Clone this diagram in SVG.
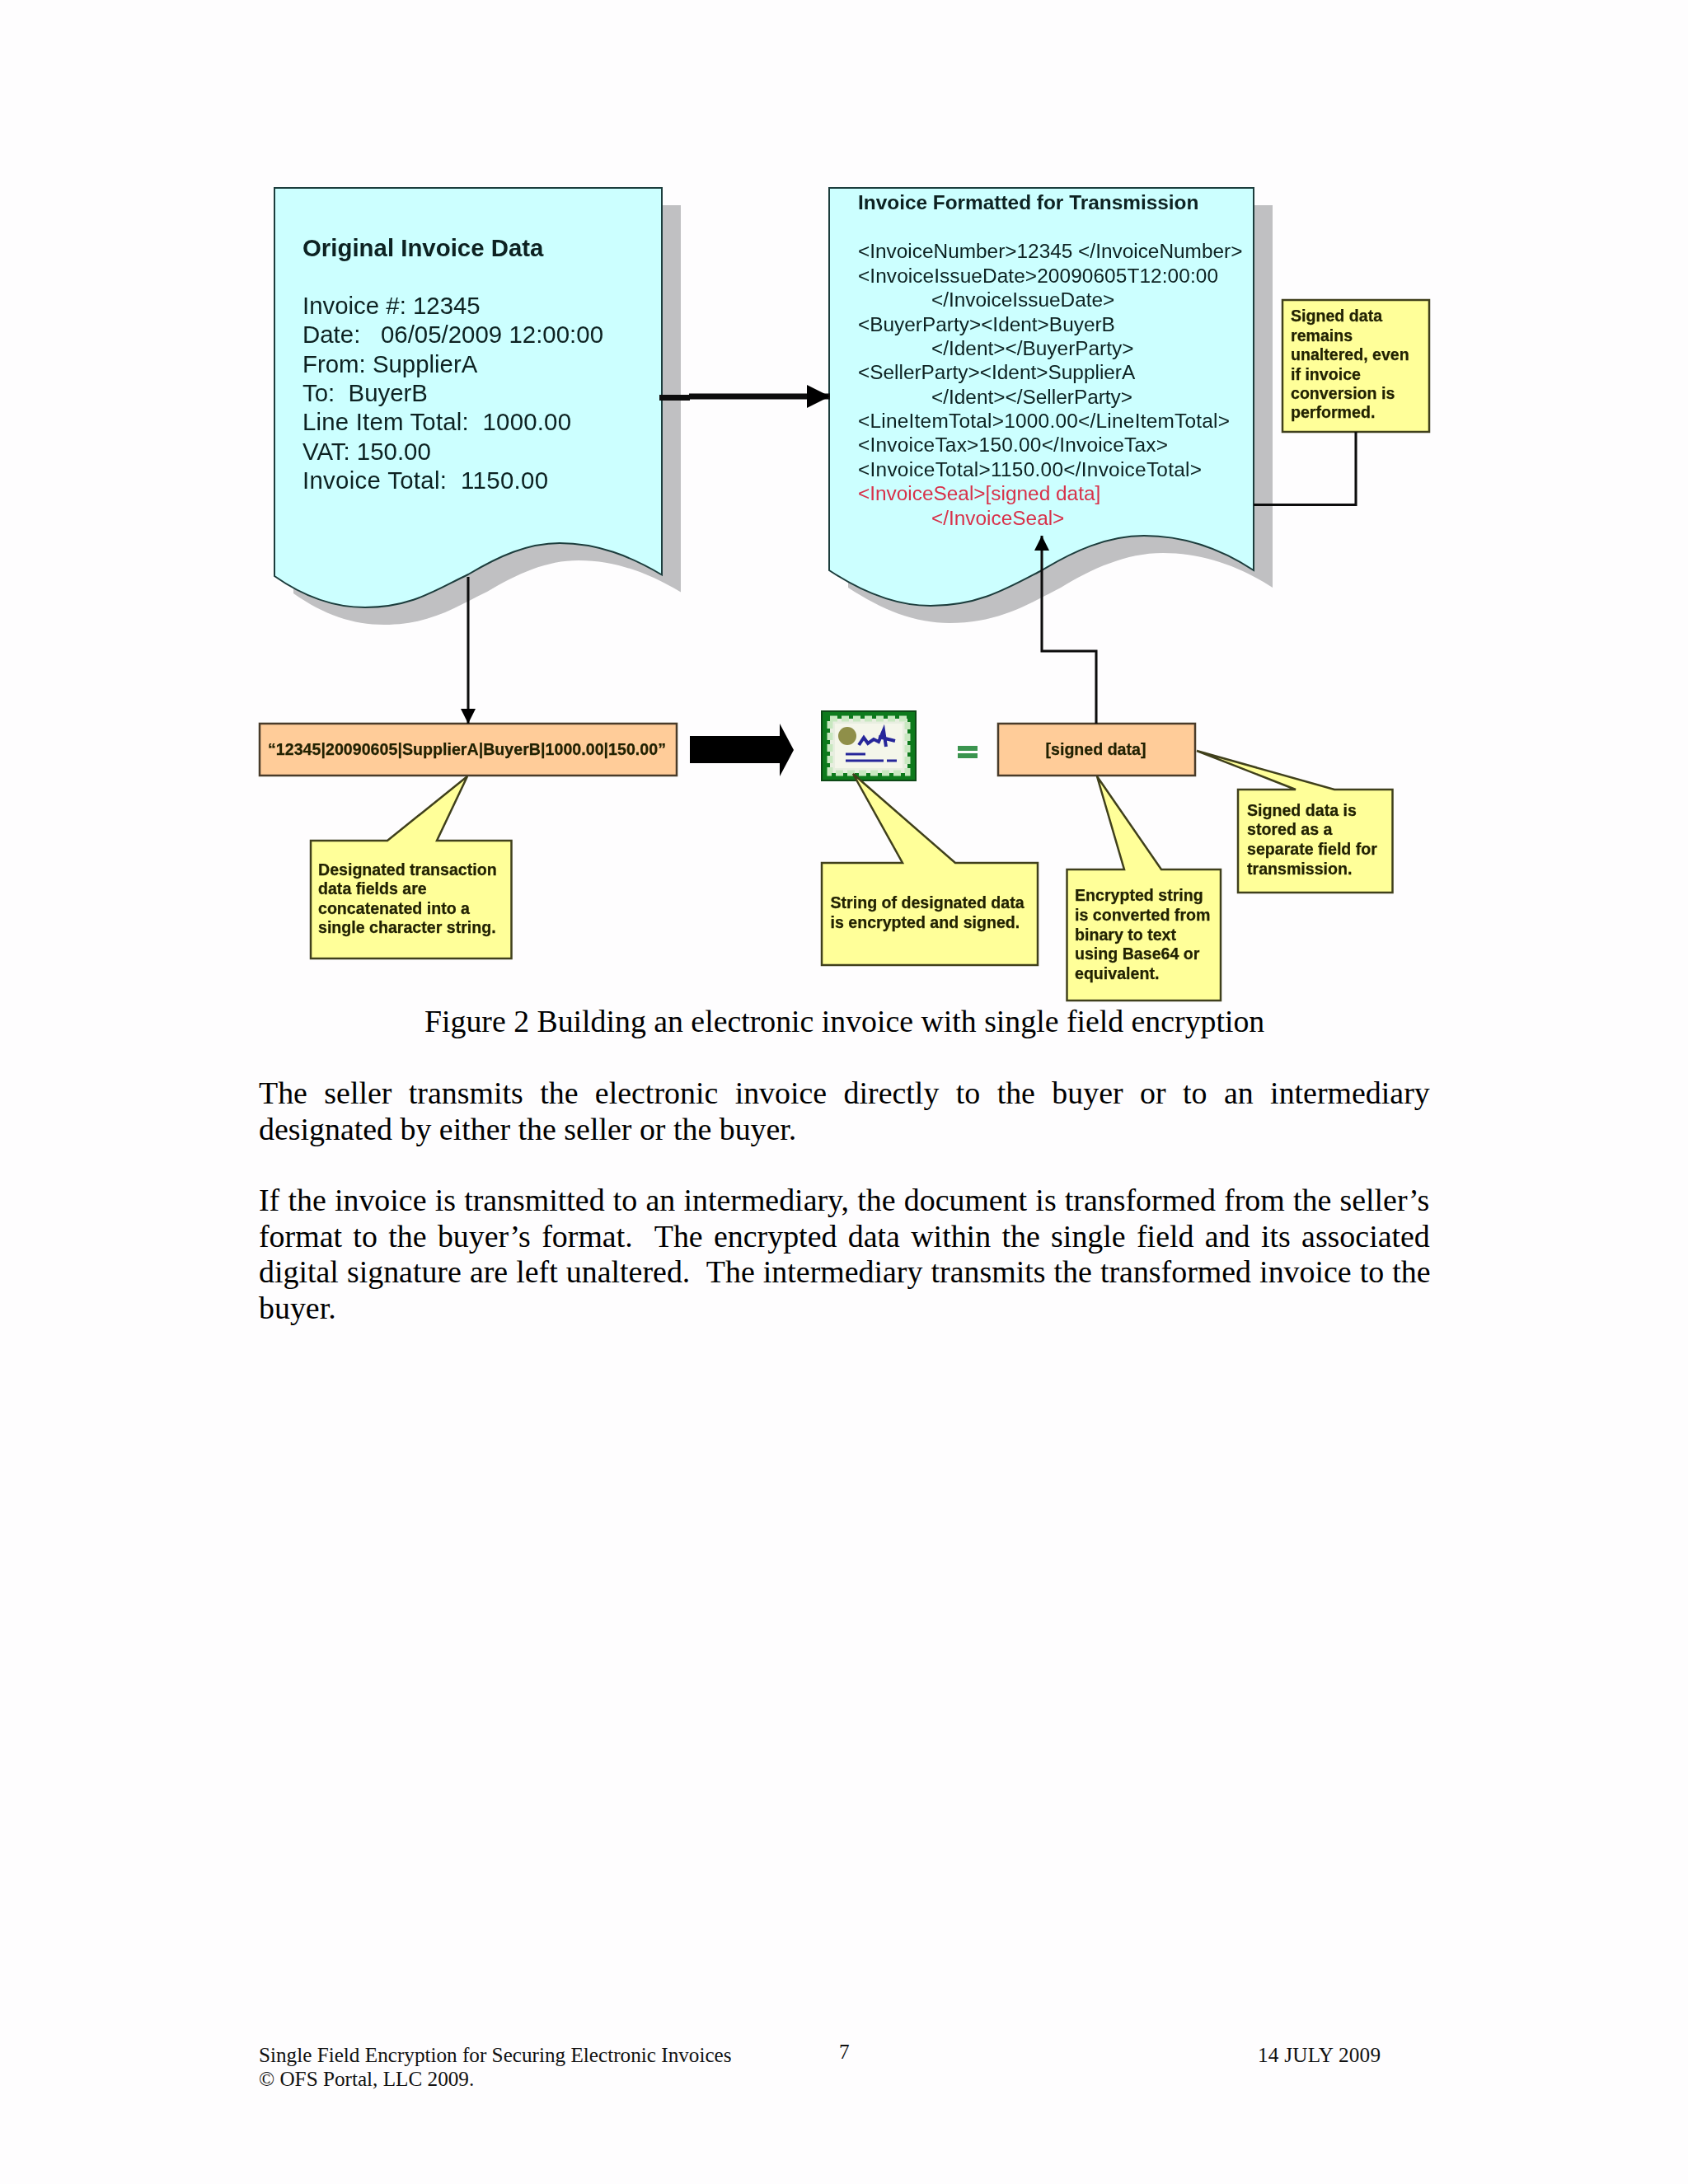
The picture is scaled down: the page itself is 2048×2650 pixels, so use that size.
<svg xmlns="http://www.w3.org/2000/svg" width="2048" height="2650" viewBox="0 0 2048 2650">
<style>
text{white-space:pre}
.soft{filter:url(#soft)}
.s{font-family:"Liberation Sans",Arial,sans-serif;fill:#0d2222}
.b{font-weight:bold}
.d1{font-size:29.4px}
.d2{font-size:24.4px}
.red{fill:#d8304a}
.c{font-family:"Liberation Sans",Arial,sans-serif;font-weight:bold;font-size:19.6px;fill:#222206;stroke:#222206;stroke-width:.25}
.t{font-family:"Liberation Serif","Times New Roman",serif;font-size:37.9px;fill:#000}
.f{font-family:"Liberation Serif","Times New Roman",serif;font-size:25.2px;fill:#111}
.shadow{fill:#c0c0c2}
.doc{fill:#ccffff;stroke:#1c3c3c;stroke-width:2}
.orange{fill:#ffcc99;stroke:#4a3a2a;stroke-width:2.5}
.note{fill:#ffff99;stroke:#40401c;stroke-width:2.5;stroke-linejoin:miter}
.conn{fill:none;stroke:#0a0a0a;stroke-width:3}
</style>
<defs>
<filter id="soft" x="-5%" y="-5%" width="110%" height="110%"><feGaussianBlur stdDeviation="0.55"/></filter>
<marker id="ah" markerUnits="userSpaceOnUse" markerWidth="18" markerHeight="18" refX="18" refY="9" orient="auto"><path d="M0 0L18 9L0 18Z" fill="#000"/></marker>
<marker id="ahL" markerUnits="userSpaceOnUse" markerWidth="28" markerHeight="28" refX="28" refY="14" orient="auto"><path d="M0 0L28 14L0 28Z" fill="#000"/></marker>
</defs>
<rect width="2048" height="2650" fill="#fefdfe"/>
<g id="doc-original" class="soft">
<path class="shadow" d="M356 249H826V718.500C788 696 748 680 702 680C663 680 628 696 591 718C553 736 523 758 466 758C428 758 393 746 356 720Z"/>
<path class="doc" d="M333 228H803V697.500C765 675 725 659 679 659C640 659 605 675 568 697C530 715 500 737 443 737C405 737 370 725 333 699Z"/>
<text class="s d1 b" x="367" y="311">Original Invoice Data</text>
<text class="s d1" x="367" y="381">Invoice #: 12345</text>
<text class="s d1" x="367" y="416" textLength="365">Date:   06/05/2009 12:00:00</text>
<text class="s d1" x="367" y="452">From: SupplierA</text>
<text class="s d1" x="367" y="487">To:  BuyerB</text>
<text class="s d1" x="367" y="522" textLength="326">Line Item Total:  1000.00</text>
<text class="s d1" x="367" y="558">VAT: 150.00</text>
<text class="s d1" x="367" y="593" textLength="298">Invoice Total:  1150.00</text>
</g>
<g id="doc-formatted" class="soft">
<path class="shadow" d="M1029 249H1544V713C1506 688 1460 671 1411 671C1366 671 1325 690 1287 713C1245 735 1210 756 1152 756C1110 756 1070 740 1029 713Z"/>
<path class="doc" d="M1006 228H1521V692C1483 667 1437 650 1388 650C1343 650 1302 669 1264 692C1222 714 1187 735 1129 735C1087 735 1047 719 1006 692Z"/>
<text class="s d2 b" x="1041" y="254">Invoice Formatted for Transmission</text>
<text class="s d2" x="1041" y="313">&lt;InvoiceNumber&gt;12345 &lt;/InvoiceNumber&gt;</text>
<text class="s d2" x="1041" y="343" textLength="437">&lt;InvoiceIssueDate&gt;20090605T12:00:00</text>
<text class="s d2" x="1130" y="372">&lt;/InvoiceIssueDate&gt;</text>
<text class="s d2" x="1041" y="402">&lt;BuyerParty&gt;&lt;Ident&gt;BuyerB</text>
<text class="s d2" x="1130" y="431">&lt;/Ident&gt;&lt;/BuyerParty&gt;</text>
<text class="s d2" x="1041" y="460">&lt;SellerParty&gt;&lt;Ident&gt;SupplierA</text>
<text class="s d2" x="1130" y="490">&lt;/Ident&gt;&lt;/SellerParty&gt;</text>
<text class="s d2" x="1041" y="519" textLength="451">&lt;LineItemTotal&gt;1000.00&lt;/LineItemTotal&gt;</text>
<text class="s d2" x="1041" y="548" textLength="376">&lt;InvoiceTax&gt;150.00&lt;/InvoiceTax&gt;</text>
<text class="s d2" x="1041" y="578" textLength="417">&lt;InvoiceTotal&gt;1150.00&lt;/InvoiceTotal&gt;</text>
<text class="s d2 red" x="1041" y="607">&lt;InvoiceSeal&gt;[signed data]</text>
<text class="s d2 red" x="1130" y="637">&lt;/InvoiceSeal&gt;</text>
</g>
<g id="note-unaltered" class="soft">
<rect class="note" x="1556" y="364" width="178" height="160"/>
<text class="c" x="1566" y="390">Signed data</text>
<text class="c" x="1566" y="414">remains</text>
<text class="c" x="1566" y="437">unaltered, even</text>
<text class="c" x="1566" y="461">if invoice</text>
<text class="c" x="1566" y="484">conversion is</text>
<text class="c" x="1566" y="507">performed.</text>
</g>
<g id="box-string" class="soft">
<rect class="orange" x="315" y="878" width="506" height="63"/>
<text class="c" x="325" y="915.500" textLength="483">“12345|20090605|SupplierA|BuyerB|1000.00|150.00”</text>
</g>
<g id="certificate" class="soft">
<rect x="997" y="863" width="114" height="84" fill="#0c7a1c" stroke="#0a4a12" stroke-width="2"/>
<rect x="1007" y="872" width="94" height="66" fill="#e8eee0" stroke="#c8e8c0" stroke-width="7" stroke-dasharray="9 5"/>
<rect x="1013" y="878" width="82" height="54" fill="#f4f6ea"/>
<circle cx="1028" cy="893" r="11" fill="#8f8f48"/>
<path d="M1042 904L1048 895L1053 902L1060 897L1066 900L1072 886L1075 906M1066 894L1086 899" fill="none" stroke="#28289a" stroke-width="4"/>
<path d="M1026 915H1050M1026 923H1072M1076 923H1088" fill="none" stroke="#28289a" stroke-width="3"/>
</g>
<g id="equals" class="soft">
<rect x="1162" y="905" width="24" height="6" fill="#3a9450"/>
<rect x="1162" y="914" width="24" height="6" fill="#3a9450"/>
</g>
<g id="box-signed" class="soft">
<rect class="orange" x="1211" y="878" width="239" height="63"/>
<text class="c" x="1329.500" y="915.500" text-anchor="middle">[signed data]</text>
</g>
<g id="note-concatenated" class="soft">
<path class="note" d="M377 1020H470L567 942L530 1020H620.500V1163H377Z"/>
<text class="c" x="386" y="1061.500">Designated transaction</text>
<text class="c" x="386" y="1085">data fields are</text>
<text class="c" x="386" y="1108.500">concatenated into a</text>
<text class="c" x="386" y="1132">single character string.</text>
</g>
<g id="note-encrypted" class="soft">
<path class="note" d="M997 1047H1095L1035 939L1159 1047H1259V1171H997Z"/>
<text class="c" x="1007.500" y="1102">String of designated data</text>
<text class="c" x="1007.500" y="1126">is encrypted and signed.</text>
</g>
<g id="note-converted" class="soft">
<path class="note" d="M1294.500 1055H1364L1331 942L1409 1055H1481V1214H1294.500Z"/>
<text class="c" x="1304" y="1093">Encrypted string</text>
<text class="c" x="1304" y="1117">is converted from</text>
<text class="c" x="1304" y="1141">binary to text</text>
<text class="c" x="1304" y="1164">using Base64 or</text>
<text class="c" x="1304" y="1188">equivalent.</text>
</g>
<g id="note-stored" class="soft">
<path class="note" d="M1502 958H1572L1452 911L1619 958H1689.500V1083H1502Z"/>
<text class="c" x="1513" y="990">Signed data is</text>
<text class="c" x="1513" y="1013">stored as a</text>
<text class="c" x="1513" y="1037">separate field for</text>
<text class="c" x="1513" y="1061">transmission.</text>
</g>
<g id="connectors" class="soft">
<path class="conn" d="M568 700V878" marker-end="url(#ah)"/>
<path class="conn" d="M800 482.500H837" style="stroke-width:7"/>
<path class="conn" d="M836 481H1007" style="stroke-width:7" marker-end="url(#ahL)"/>
<path class="conn" d="M1330 878V790H1264V650" marker-end="url(#ah)"/>
<path class="conn" d="M1645 524V612.500H1521"/>
<path d="M837 893H946V878L963 910L946 942V926H837Z" fill="#000"/>
</g>
<g id="page-text">
<text class="t" x="515" y="1252" style="font-size:37.8px">Figure 2 Building an electronic invoice with single field encryption</text>
<text class="t" x="314" y="1339" word-spacing="10.95">The seller transmits the electronic invoice directly to the buyer or to an intermediary</text>
<text class="t" x="314" y="1383">designated by either the seller or the buyer.</text>
<text class="t" x="314" y="1469" word-spacing="0.73">If the invoice is transmitted to an intermediary, the document is transformed from the seller’s</text>
<text class="t" x="314" y="1513" word-spacing="3.9">format to the buyer’s format.  The encrypted data within the single field and its associated</text>
<text class="t" x="314" y="1556" word-spacing="0.63">digital signature are left unaltered.  The intermediary transmits the transformed invoice to the</text>
<text class="t" x="314" y="1600">buyer.</text>
<text class="f" x="314" y="2502">Single Field Encryption for Securing Electronic Invoices</text>
<text class="f" x="314" y="2531">© OFS Portal, LLC 2009.</text>
<text class="f" x="1018" y="2498">7</text>
<text class="f" x="1526" y="2502" textLength="149">14 JULY 2009</text>
</g>
</svg>
